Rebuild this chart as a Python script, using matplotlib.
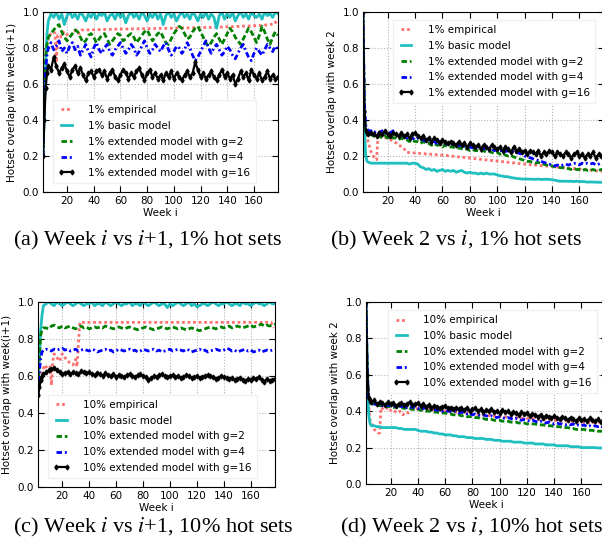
import matplotlib.pyplot as plt

plt.rcParams["mathtext.fontset"] = "stix"
plt.rcParams["font.family"] = ["DejaVu Sans"]

# model series are sampled at these weeks
weeks = [2, 3, 4, 5, 6] + list(range(8, 179, 2))

# ---- (a) week i vs i+1, 1% hot sets ----
a_emp_weeks = [3, 6, 8, 10, 11, 12, 13, 15, 17, 19, 21, 23, 25, 27, 29, 31, 33,
               60, 100, 130, 165, 172, 175, 176, 177]
a_emp = [0.75, 0.86, 0.88, 0.89, 0.88, 0.72, 0.87, 0.86, 0.89, 0.87, 0.88, 0.87,
         0.89, 0.90, 0.88, 0.90, 0.90, 0.905, 0.91, 0.915, 0.925, 0.93, 0.935,
         0.945, 0.93]
a_basic = [0.20, 0.45, 0.70, 0.88, 0.95,
           0.99, 0.97, 1.00, 0.96, 0.99, 0.93, 0.98, 1.00, 0.97, 0.99,
           0.96, 1.00, 0.98, 0.95, 0.99, 0.97, 1.00, 0.96, 0.99, 0.98,
           1.00, 0.95, 0.98, 0.99, 0.96, 1.00, 0.97, 0.99, 0.94, 0.98,
           1.00, 0.97, 0.99, 0.96, 1.00, 0.98, 0.95, 0.99, 0.97, 1.00,
           0.96, 0.99, 0.93, 0.98, 1.00, 0.97, 0.99, 0.95, 0.98, 1.00,
           0.97, 0.99, 0.96, 1.00, 0.98, 0.95, 0.99, 0.97, 1.00, 0.96,
           0.99, 0.97, 0.91, 0.98, 1.00, 0.96, 0.99, 0.97, 1.00, 0.95,
           0.98, 1.00, 0.97, 0.99, 0.96, 1.00, 0.98, 0.97, 0.99, 0.96,
           1.00, 0.98, 0.99, 0.97, 1.00, 0.99]
a_g2 = [0.20, 0.55, 0.75, 0.82, 0.86,
        0.88, 0.90, 0.92, 0.93, 0.89, 0.86, 0.84, 0.86, 0.88, 0.90,
        0.89, 0.86, 0.83, 0.84, 0.87, 0.88, 0.86, 0.83, 0.85, 0.87,
        0.88, 0.85, 0.82, 0.84, 0.86, 0.88, 0.87, 0.84, 0.85, 0.87,
        0.88, 0.86, 0.83, 0.85, 0.87, 0.89, 0.90, 0.87, 0.84, 0.86,
        0.88, 0.89, 0.86, 0.83, 0.82, 0.85, 0.88, 0.90, 0.92, 0.91,
        0.88, 0.85, 0.86, 0.89, 0.91, 0.92, 0.89, 0.86, 0.83, 0.81,
        0.83, 0.86, 0.88, 0.85, 0.82, 0.85, 0.88, 0.91, 0.89, 0.86,
        0.84, 0.82, 0.85, 0.88, 0.91, 0.89, 0.86, 0.83, 0.87, 0.92,
        0.89, 0.85, 0.82, 0.86, 0.89, 0.87]
a_g4 = [0.20, 0.50, 0.68, 0.76, 0.80,
        0.83, 0.79, 0.81, 0.84, 0.78, 0.80, 0.77, 0.81, 0.83, 0.79,
        0.81, 0.76, 0.79, 0.82, 0.78, 0.75, 0.80, 0.83, 0.79, 0.77,
        0.80, 0.82, 0.78, 0.76, 0.79, 0.81, 0.83, 0.80, 0.77, 0.79,
        0.82, 0.80, 0.76, 0.78, 0.81, 0.84, 0.80, 0.77, 0.79, 0.82,
        0.80, 0.78, 0.81, 0.83, 0.79, 0.76, 0.78, 0.81, 0.80, 0.77,
        0.79, 0.83, 0.80, 0.76, 0.73, 0.75, 0.78, 0.81, 0.84, 0.80,
        0.77, 0.80, 0.82, 0.79, 0.76, 0.78, 0.81, 0.79, 0.76, 0.74,
        0.77, 0.80, 0.82, 0.78, 0.75, 0.73, 0.77, 0.80, 0.78, 0.76,
        0.79, 0.82, 0.80, 0.78, 0.81, 0.79]
a_g16 = [0.20, 0.40, 0.58, 0.66, 0.70,
         0.68, 0.75, 0.70, 0.66, 0.69, 0.71, 0.67, 0.64, 0.68, 0.70,
         0.66, 0.69, 0.65, 0.62, 0.66, 0.67, 0.64, 0.67, 0.68, 0.65,
         0.67, 0.63, 0.66, 0.68, 0.64, 0.62, 0.65, 0.68, 0.66, 0.63,
         0.66, 0.64, 0.67, 0.69, 0.65, 0.62, 0.66, 0.68, 0.64, 0.66,
         0.63, 0.65, 0.62, 0.66, 0.64, 0.67, 0.63, 0.66, 0.64, 0.62,
         0.65, 0.67, 0.64, 0.66, 0.72, 0.68, 0.64, 0.66, 0.63, 0.65,
         0.67, 0.64, 0.62, 0.65, 0.68, 0.64, 0.66, 0.63, 0.65, 0.60,
         0.63, 0.67, 0.64, 0.66, 0.62, 0.68, 0.65, 0.63, 0.66, 0.62,
         0.64, 0.67, 0.63, 0.65, 0.63, 0.64]

# ---- (b) week 2 vs i, 1% hot sets ----
b_emp_weeks = [2, 3, 5, 8, 11, 12, 13, 16, 19, 22, 25, 28, 31, 34, 60, 90, 120,
               150, 170, 175, 178]
b_emp = [1.0, 0.40, 0.30, 0.22, 0.18, 0.18, 0.32, 0.31, 0.30, 0.29, 0.28, 0.26,
         0.25, 0.22, 0.205, 0.18, 0.155, 0.135, 0.12, 0.115, 0.115]
b_basic = [1.00, 0.35, 0.20, 0.17, 0.165,
           0.16, 0.16, 0.16, 0.16, 0.16, 0.16, 0.16, 0.16, 0.16, 0.16,
           0.16, 0.16, 0.16, 0.16, 0.155, 0.16, 0.16, 0.155, 0.14, 0.135,
           0.125, 0.13, 0.12, 0.125, 0.115, 0.12, 0.125, 0.115, 0.12, 0.115,
           0.12, 0.11, 0.115, 0.12, 0.11, 0.105, 0.11, 0.105, 0.105, 0.10,
           0.105, 0.10, 0.105, 0.10, 0.10, 0.10, 0.095, 0.09, 0.088, 0.085,
           0.085, 0.08, 0.078, 0.075, 0.074, 0.072, 0.072, 0.072, 0.071, 0.071,
           0.07, 0.072, 0.07, 0.07, 0.071, 0.07, 0.068, 0.066, 0.062, 0.06,
           0.06, 0.06, 0.059, 0.06, 0.058, 0.06, 0.058, 0.058, 0.057, 0.055,
           0.056, 0.055, 0.055, 0.054, 0.054, 0.054]
b_g2 = [1.00, 0.45, 0.35, 0.33, 0.32,
        0.32, 0.31, 0.32, 0.31, 0.30, 0.31, 0.30, 0.31, 0.30, 0.30,
        0.29, 0.30, 0.29, 0.29, 0.28, 0.29, 0.28, 0.28, 0.27, 0.28,
        0.27, 0.27, 0.26, 0.27, 0.26, 0.26, 0.25, 0.26, 0.25, 0.25,
        0.25, 0.24, 0.245, 0.24, 0.235, 0.24, 0.23, 0.235, 0.23, 0.23,
        0.225, 0.23, 0.22, 0.225, 0.22, 0.215, 0.22, 0.21, 0.215, 0.205,
        0.20, 0.205, 0.195, 0.19, 0.185, 0.18, 0.175, 0.17, 0.17, 0.165,
        0.16, 0.165, 0.155, 0.155, 0.15, 0.15, 0.145, 0.14, 0.14, 0.135,
        0.135, 0.13, 0.13, 0.125, 0.13, 0.125, 0.125, 0.12, 0.125, 0.12,
        0.12, 0.125, 0.12, 0.12, 0.125, 0.12]
b_g4 = [1.00, 0.50, 0.37, 0.35, 0.34,
        0.34, 0.33, 0.34, 0.33, 0.34, 0.33, 0.32, 0.33, 0.34, 0.32,
        0.31, 0.32, 0.31, 0.30, 0.31, 0.30, 0.29, 0.30, 0.29, 0.29,
        0.28, 0.29, 0.28, 0.28, 0.27, 0.28, 0.27, 0.27, 0.265, 0.27,
        0.26, 0.265, 0.26, 0.25, 0.255, 0.25, 0.25, 0.245, 0.25, 0.24,
        0.245, 0.24, 0.24, 0.235, 0.24, 0.23, 0.235, 0.23, 0.23, 0.225,
        0.23, 0.22, 0.225, 0.22, 0.215, 0.21, 0.20, 0.195, 0.19, 0.185,
        0.18, 0.175, 0.17, 0.165, 0.16, 0.155, 0.15, 0.145, 0.15, 0.145,
        0.15, 0.155, 0.15, 0.155, 0.16, 0.155, 0.15, 0.16, 0.155, 0.16,
        0.155, 0.16, 0.15, 0.155, 0.16, 0.15]
b_g16 = [1.00, 0.45, 0.34, 0.33, 0.32,
         0.33, 0.32, 0.31, 0.33, 0.32, 0.34, 0.32, 0.31, 0.33, 0.32,
         0.31, 0.33, 0.31, 0.32, 0.30, 0.32, 0.33, 0.31, 0.30, 0.31,
         0.29, 0.30, 0.28, 0.30, 0.29, 0.27, 0.29, 0.28, 0.27, 0.28,
         0.27, 0.26, 0.28, 0.26, 0.27, 0.25, 0.27, 0.26, 0.25, 0.26,
         0.24, 0.26, 0.25, 0.24, 0.26, 0.25, 0.24, 0.25, 0.23, 0.25,
         0.24, 0.22, 0.25, 0.23, 0.24, 0.22, 0.23, 0.21, 0.23, 0.22,
         0.21, 0.23, 0.20, 0.22, 0.21, 0.23, 0.22, 0.20, 0.22, 0.21,
         0.20, 0.22, 0.21, 0.19, 0.21, 0.22, 0.20, 0.21, 0.19, 0.21,
         0.20, 0.22, 0.19, 0.21, 0.20, 0.21]

# ---- (c) week i vs i+1, 10% hot sets ----
c_emp_weeks = [3, 5, 7, 9, 11, 12, 13, 14, 16, 18, 20, 22, 24, 26, 28, 30, 31,
               33, 100, 175, 177]
c_emp = [0.55, 0.62, 0.66, 0.64, 0.65, 0.55, 0.68, 0.72, 0.70, 0.68, 0.72, 0.70,
         0.68, 0.67, 0.66, 0.69, 0.65, 0.89, 0.89, 0.89, 0.86]
c_basic = [0.50, 0.70, 0.85, 0.93, 0.98,
           0.99, 1.00, 0.99, 0.98, 1.00, 0.99, 0.98, 0.99, 1.00, 0.99,
           0.98, 0.99, 1.00, 0.99, 0.98, 0.99, 0.99, 1.00, 0.98, 0.99,
           0.99, 0.98, 1.00, 0.99, 0.98, 0.99, 1.00, 0.99, 0.98, 0.99,
           0.99, 1.00, 0.98, 0.99, 0.99, 0.98, 1.00, 0.99, 0.98, 0.99,
           1.00, 0.99, 0.98, 0.99, 0.99, 0.97, 0.99, 0.98, 0.99, 1.00,
           0.99, 0.98, 0.99, 1.00, 0.98, 0.99, 0.975, 0.98, 0.99, 0.99,
           0.98, 0.99, 1.00, 0.99, 0.98, 0.99, 0.99, 1.00, 0.99, 0.98,
           0.99, 0.99, 0.98, 1.00, 0.99, 0.99, 0.98, 0.99, 1.00, 0.99,
           0.99, 0.98, 0.99, 1.00, 0.99, 0.99]
c_g2 = [0.50, 0.70, 0.82, 0.85, 0.86,
        0.86, 0.855, 0.87, 0.875, 0.865, 0.86, 0.87, 0.86, 0.865, 0.87,
        0.86, 0.855, 0.865, 0.87, 0.86, 0.865, 0.855, 0.86, 0.865, 0.86,
        0.865, 0.86, 0.87, 0.865, 0.86, 0.855, 0.86, 0.865, 0.86, 0.855,
        0.86, 0.865, 0.86, 0.855, 0.85, 0.855, 0.86, 0.865, 0.86, 0.855,
        0.85, 0.855, 0.86, 0.865, 0.86, 0.855, 0.86, 0.865, 0.86, 0.855,
        0.86, 0.855, 0.85, 0.855, 0.86, 0.855, 0.85, 0.845, 0.85, 0.855,
        0.86, 0.865, 0.86, 0.855, 0.86, 0.865, 0.86, 0.865, 0.87, 0.86,
        0.865, 0.87, 0.865, 0.86, 0.865, 0.87, 0.875, 0.865, 0.87, 0.875,
        0.88, 0.87, 0.875, 0.87, 0.875, 0.88]
c_g4 = [0.50, 0.62, 0.70, 0.73, 0.74,
        0.745, 0.74, 0.735, 0.745, 0.74, 0.745, 0.75, 0.74, 0.745, 0.735,
        0.74, 0.745, 0.735, 0.74, 0.745, 0.74, 0.735, 0.745, 0.74, 0.73,
        0.735, 0.74, 0.745, 0.735, 0.74, 0.73, 0.735, 0.745, 0.74, 0.735,
        0.74, 0.745, 0.735, 0.74, 0.73, 0.735, 0.745, 0.74, 0.735, 0.74,
        0.745, 0.735, 0.74, 0.73, 0.735, 0.74, 0.745, 0.735, 0.74, 0.745,
        0.74, 0.735, 0.745, 0.74, 0.73, 0.735, 0.74, 0.745, 0.735, 0.74,
        0.73, 0.735, 0.74, 0.745, 0.74, 0.735, 0.74, 0.75, 0.745, 0.735,
        0.74, 0.73, 0.735, 0.74, 0.745, 0.735, 0.74, 0.73, 0.735, 0.74,
        0.73, 0.735, 0.74, 0.735, 0.74, 0.745]
c_g16 = [0.50, 0.54, 0.58, 0.60, 0.61,
         0.62, 0.63, 0.64, 0.645, 0.63, 0.62, 0.61, 0.615, 0.62, 0.61,
         0.62, 0.615, 0.61, 0.625, 0.62, 0.615, 0.62, 0.61, 0.605, 0.615,
         0.61, 0.60, 0.615, 0.605, 0.60, 0.61, 0.595, 0.605, 0.60, 0.595,
         0.605, 0.61, 0.60, 0.595, 0.605, 0.61, 0.60, 0.595, 0.58, 0.59,
         0.60, 0.595, 0.605, 0.61, 0.60, 0.595, 0.60, 0.605, 0.595, 0.60,
         0.59, 0.595, 0.605, 0.60, 0.59, 0.595, 0.60, 0.59, 0.595, 0.60,
         0.605, 0.60, 0.595, 0.585, 0.59, 0.60, 0.595, 0.59, 0.585, 0.59,
         0.58, 0.585, 0.59, 0.58, 0.575, 0.585, 0.58, 0.59, 0.585, 0.595,
         0.58, 0.57, 0.585, 0.575, 0.58, 0.585]

# ---- (d) week 2 vs i, 10% hot sets ----
d_emp_weeks = [2, 3, 5, 8, 11, 12, 13, 15, 17, 19, 21, 23, 25, 27, 29, 31, 33,
               35, 40, 60, 80, 100, 120, 140, 160, 178]
d_emp = [1.0, 0.50, 0.35, 0.30, 0.28, 0.28, 0.42, 0.41, 0.42, 0.40, 0.41, 0.40,
         0.39, 0.40, 0.38, 0.395, 0.39, 0.41, 0.415, 0.40, 0.385, 0.37, 0.36,
         0.35, 0.34, 0.335]
d_basic = [1.00, 0.55, 0.38, 0.33, 0.32,
           0.32, 0.315, 0.315, 0.31, 0.31, 0.31, 0.31, 0.31, 0.31, 0.305,
           0.305, 0.30, 0.30, 0.30, 0.30, 0.30, 0.295, 0.29, 0.29, 0.29,
           0.285, 0.285, 0.28, 0.28, 0.275, 0.275, 0.27, 0.27, 0.27, 0.265,
           0.265, 0.26, 0.26, 0.26, 0.255, 0.255, 0.255, 0.25, 0.25, 0.25,
           0.25, 0.245, 0.245, 0.245, 0.24, 0.24, 0.24, 0.235, 0.235, 0.235,
           0.235, 0.23, 0.23, 0.23, 0.23, 0.225, 0.225, 0.225, 0.225, 0.22,
           0.22, 0.22, 0.22, 0.215, 0.215, 0.215, 0.215, 0.21, 0.21, 0.21,
           0.21, 0.21, 0.205, 0.205, 0.205, 0.205, 0.20, 0.20, 0.20, 0.20,
           0.20, 0.20, 0.198, 0.198, 0.197, 0.196]
d_g2 = [1.00, 0.60, 0.48, 0.45, 0.44,
        0.44, 0.435, 0.43, 0.43, 0.43, 0.425, 0.425, 0.42, 0.425, 0.42,
        0.42, 0.415, 0.42, 0.415, 0.41, 0.41, 0.41, 0.405, 0.405, 0.40,
        0.40, 0.40, 0.395, 0.395, 0.39, 0.39, 0.39, 0.385, 0.385, 0.38,
        0.38, 0.38, 0.375, 0.375, 0.37, 0.37, 0.37, 0.365, 0.365, 0.36,
        0.36, 0.355, 0.355, 0.355, 0.35, 0.35, 0.35, 0.345, 0.345, 0.345,
        0.34, 0.34, 0.34, 0.335, 0.335, 0.335, 0.33, 0.33, 0.33, 0.33,
        0.325, 0.325, 0.325, 0.32, 0.32, 0.32, 0.315, 0.315, 0.315, 0.31,
        0.31, 0.31, 0.305, 0.305, 0.30, 0.30, 0.30, 0.30, 0.295, 0.295,
        0.295, 0.29, 0.29, 0.29, 0.29, 0.29]
d_g4 = [1.00, 0.60, 0.47, 0.45, 0.445,
        0.44, 0.435, 0.44, 0.43, 0.435, 0.43, 0.435, 0.43, 0.425, 0.43,
        0.425, 0.43, 0.42, 0.425, 0.42, 0.425, 0.415, 0.42, 0.415, 0.42,
        0.41, 0.415, 0.41, 0.405, 0.41, 0.40, 0.405, 0.40, 0.40, 0.395,
        0.40, 0.39, 0.395, 0.39, 0.385, 0.39, 0.38, 0.385, 0.38, 0.375,
        0.38, 0.375, 0.37, 0.375, 0.37, 0.365, 0.37, 0.365, 0.36, 0.365,
        0.36, 0.355, 0.36, 0.355, 0.35, 0.355, 0.35, 0.345, 0.35, 0.345,
        0.34, 0.345, 0.34, 0.335, 0.34, 0.335, 0.33, 0.335, 0.33, 0.33,
        0.325, 0.33, 0.325, 0.33, 0.32, 0.325, 0.32, 0.325, 0.315, 0.32,
        0.315, 0.32, 0.315, 0.32, 0.31, 0.315]
d_g16 = [1.00, 0.60, 0.47, 0.46, 0.45,
         0.46, 0.44, 0.45, 0.445, 0.435, 0.45, 0.44, 0.445, 0.43, 0.44,
         0.445, 0.435, 0.44, 0.45, 0.435, 0.44, 0.445, 0.43, 0.44, 0.425,
         0.435, 0.42, 0.43, 0.425, 0.415, 0.425, 0.43, 0.415, 0.42, 0.41,
         0.42, 0.41, 0.415, 0.405, 0.42, 0.40, 0.41, 0.415, 0.40, 0.41,
         0.395, 0.405, 0.40, 0.41, 0.395, 0.40, 0.39, 0.405, 0.395, 0.40,
         0.385, 0.395, 0.39, 0.38, 0.395, 0.385, 0.39, 0.375, 0.385, 0.38,
         0.37, 0.38, 0.365, 0.375, 0.37, 0.36, 0.375, 0.365, 0.355, 0.37,
         0.36, 0.35, 0.365, 0.355, 0.345, 0.36, 0.35, 0.355, 0.345, 0.36,
         0.35, 0.345, 0.355, 0.34, 0.35, 0.355]

captions = [
    r"(a) Week $i$ vs $i$+1, 1% hot sets",
    r"(b) Week 2 vs $i$, 1% hot sets",
    r"(c) Week $i$ vs $i$+1, 10% hot sets",
    r"(d) Week 2 vs $i$, 10% hot sets",
]

FS = 7.5


def panel(ax, emp_w, emp, basic, g2, g4, g16, pct, ylabel, loc, anchor):
    ax.plot(emp_w, emp, color="#ff7070", ls=(0, (1, 1)), lw=2,
            label=pct + " empirical")
    ax.plot(weeks, basic, color="#1fbfbf", lw=2, label=pct + " basic model")
    ax.plot(weeks, g2, color="#008000", ls=(0, (2, 1)), lw=2,
            label=pct + " extended model with g=2")
    ax.plot(weeks, g4, color="#0000ff", ls=(0, (2, 1, 0.7, 1)), lw=2,
            label=pct + " extended model with g=4")
    ax.plot(weeks, g16, color="black", lw=1.6, marker="d", ms=2.5,
            label=pct + " extended model with g=16")
    ax.set_xlim(2, 178)
    ax.set_ylim(0, 1)
    ax.set_xticks(range(20, 161, 20))
    ax.set_yticks([0.0, 0.2, 0.4, 0.6, 0.8, 1.0])
    ax.tick_params(direction="in", top=True, right=True, labelsize=FS,
                   length=4, pad=3)
    ax.grid(True, color="0.7", ls=":", lw=0.8)
    ax.set_xlabel("Week i", fontsize=FS, labelpad=1)
    ax.set_ylabel(ylabel, fontsize=FS, labelpad=4)
    leg = ax.legend(loc=loc, bbox_to_anchor=anchor, fontsize=FS,
                    numpoints=2, handlelength=1.6, handletextpad=1.3,
                    labelspacing=0.55, borderpad=0.5, framealpha=1,
                    fancybox=False)
    leg.get_frame().set_edgecolor("#f0f0f0")


fig = plt.figure(figsize=(6.02, 5.46), dpi=100)

ax_a = fig.add_axes([43 / 602, 1 - 192 / 546, 235 / 602, 180 / 546])
panel(ax_a, a_emp_weeks, a_emp, a_basic, a_g2, a_g4, a_g16, "1%",
      "Hotset overlap with week(i+1)", "lower left", (0.02, 0.02))

ax_b = fig.add_axes([363 / 602, 1 - 192 / 546, 241 / 602, 180 / 546])
panel(ax_b, b_emp_weeks, b_emp, b_basic, b_g2, b_g4, b_g16, "1%",
      "Hotset overlap with week 2", "upper right", (0.985, 0.985))

ax_c = fig.add_axes([38 / 602, 1 - 487 / 546, 237 / 602, 185 / 546])
panel(ax_c, c_emp_weeks, c_emp, c_basic, c_g2, c_g4, c_g16, "10%",
      "Hotset overlap with week(i+1)", "lower left", (0.02, 0.02))

ax_d = fig.add_axes([366 / 602, 1 - 484 / 546, 240 / 602, 182 / 546])
panel(ax_d, d_emp_weeks, d_emp, d_basic, d_g2, d_g4, d_g16, "10%",
      "Hotset overlap with week 2", "upper right", (0.985, 0.985))

cap_pos = [(13, 240), (330, 240), (13, 527), (340, 527)]
for (px, py), text in zip(cap_pos, captions):
    fig.text(px / 602, 1 - py / 546, text, family="Liberation Serif",
             fontsize=16, ha="left", va="center")

fig.savefig("out.png", dpi=100)
